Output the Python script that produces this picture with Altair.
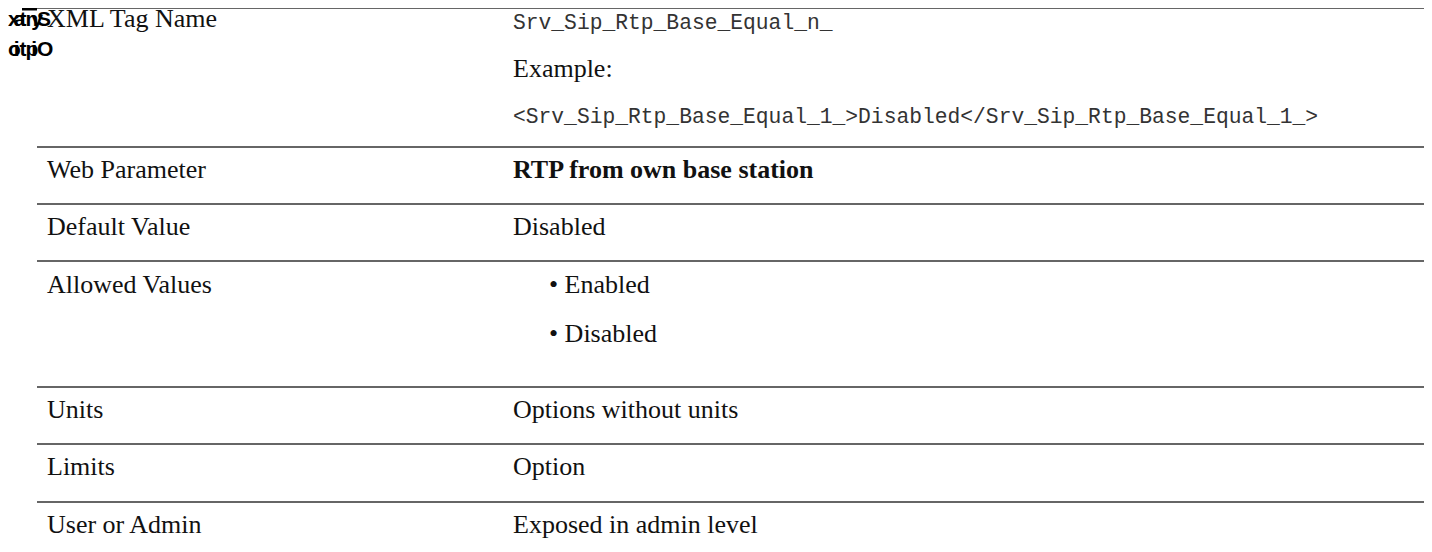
import altair as alt
import pandas as pd

# ---------------- data ----------------
row_labels = ["XML Tag Name", "Web Parameter", "Default Value", "Allowed Values",
              "Units", "Limits", "User or Admin"]
row_label_y = [19, 170, 227, 285, 410, 467, 525]

serif_values = ["Example:", "Disabled", "Options without units", "Option",
                "Exposed in admin level"]
serif_values_y = [69, 227, 410, 467, 525]

bullet_values = ["• Enabled", "• Disabled"]
bullet_values_y = [285, 334]

bold_values = ["RTP from own base station"]
bold_values_y = [170]

mono_values = ["Srv_Sip_Rtp_Base_Equal_n_",
               "<Srv_Sip_Rtp_Base_Equal_1_>Disabled</Srv_Sip_Rtp_Base_Equal_1_>"]
mono_values_y = [23, 117]

separator_y = [147, 204, 261, 387, 444, 502]

glyph_row1 = list("xatnyS")
glyph_row2 = list("oitpiO")

# ---------------- layout ----------------
W, H = 1416, 536
X0, Y0 = 8, 8
LABEL_X, VALUE_X, BULLET_X = 47, 513, 549
LINE_X1, LINE_X2 = 37, X0 + W

xs = alt.Scale(domain=[X0, X0 + W], nice=False, zero=False)
ys = alt.Scale(domain=[Y0, Y0 + H], nice=False, zero=False, reverse=True)


def text_layer(df, font, size, weight="normal", color="#111111"):
    return alt.Chart(df).mark_text(
        align="left", baseline="middle", font=font, fontSize=size,
        fontWeight=weight, color=color,
    ).encode(
        x=alt.X("x:Q", scale=xs, axis=None),
        y=alt.Y("y:Q", scale=ys, axis=None),
        text="t:N",
    )


labels_df = pd.DataFrame({"t": row_labels, "y": row_label_y, "x": LABEL_X})
serif_df = pd.DataFrame({"t": serif_values, "y": serif_values_y, "x": VALUE_X})
bullet_df = pd.DataFrame({"t": bullet_values, "y": bullet_values_y, "x": BULLET_X})
bold_df = pd.DataFrame({"t": bold_values, "y": bold_values_y, "x": VALUE_X})
mono_df = pd.DataFrame({"t": mono_values, "y": mono_values_y, "x": VALUE_X})

glyph_df = pd.DataFrame({
    "t": glyph_row1 + glyph_row2,
    "x": [8 + i * 5.8 for i in range(len(glyph_row1))] + [8 + i * 5.8 for i in range(len(glyph_row2))],
    "y": [20] * len(glyph_row1) + [50] * len(glyph_row2),
})

lines_df = pd.DataFrame({"y": separator_y, "x": LINE_X1, "x2": LINE_X2})
top_df = pd.DataFrame({"y": [8.5], "x": [LINE_X1], "x2": [LINE_X2]})
block_df = pd.DataFrame({"x": [22], "x2": [37], "y": [8], "y2": [10.5]})

rules = alt.Chart(lines_df).mark_rule(color="#333333", strokeWidth=1.5).encode(
    x=alt.X("x:Q", scale=xs, axis=None), x2="x2:Q",
    y=alt.Y("y:Q", scale=ys, axis=None),
)
top_rule = alt.Chart(top_df).mark_rule(color="#666666", strokeWidth=1.2).encode(
    x=alt.X("x:Q", scale=xs, axis=None), x2="x2:Q",
    y=alt.Y("y:Q", scale=ys, axis=None),
)
block = alt.Chart(block_df).mark_rect(color="#000000").encode(
    x=alt.X("x:Q", scale=xs, axis=None), x2="x2:Q",
    y=alt.Y("y:Q", scale=ys, axis=None), y2="y2:Q",
)

chart = alt.layer(
    top_rule, block, rules,
    text_layer(glyph_df, "Liberation Sans", 21, "bold", "#000000"),
    text_layer(labels_df, "Liberation Serif", 26),
    text_layer(serif_df, "Liberation Serif", 26),
    text_layer(bullet_df, "Liberation Serif", 26),
    text_layer(bold_df, "Liberation Serif", 26, "bold"),
    text_layer(mono_df, "Liberation Mono", 21.3, color="#333333"),
).properties(
    width=W, height=H,
    autosize=alt.AutoSizeParams(type="none"),
    padding=0,
).configure_view(stroke=None)

chart.save("out.html", embed_options={"renderer": "svg", "actions": False})
